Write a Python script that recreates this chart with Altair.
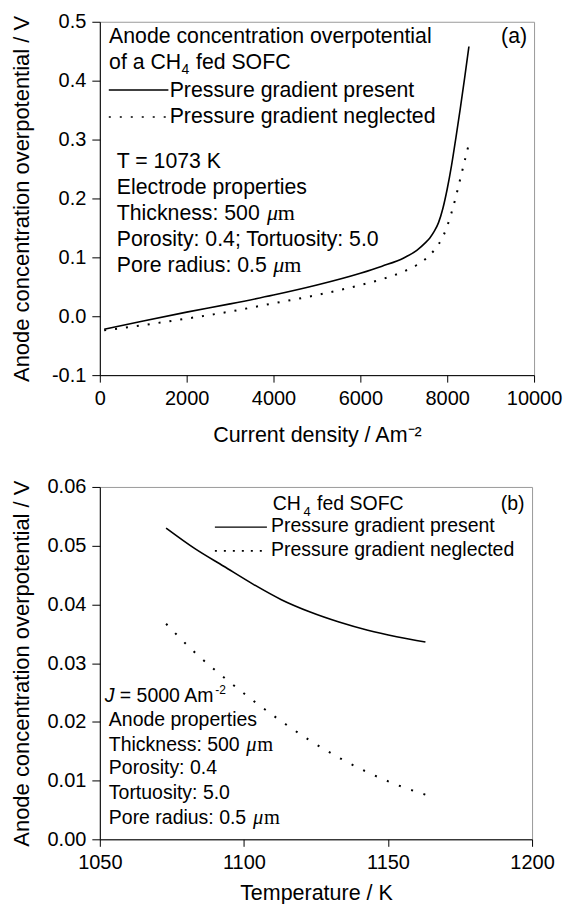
import altair as alt
import pandas as pd

FONT = "Liberation Sans"
SERIF = "Liberation Serif"

# ---------------- Panel (a) data ----------------
a_j = [100, 1000, 2000, 3000, 4000, 5000, 6000, 6500, 7000, 7300, 7500, 7600, 7700,
       7800, 7900, 8000, 8100, 8200, 8300, 8400, 8500]
a_present = [-0.022, -0.008, 0.007, 0.021, 0.036, 0.053, 0.073, 0.085, 0.099, 0.112,
             0.125, 0.133, 0.144, 0.159, 0.183, 0.216, 0.256, 0.303, 0.352, 0.404, 0.458]
a_neglected = [-0.024, -0.015, -0.004, 0.008, 0.022, 0.036, 0.053, 0.063, 0.076, 0.087,
               0.097, 0.104, 0.112, 0.122, 0.135, 0.153, 0.176, 0.203, 0.233, 0.263, 0.293]
a_xticks = [0, 2000, 4000, 6000, 8000, 10000]
a_yticks = [-0.1, 0.0, 0.1, 0.2, 0.3, 0.4, 0.5]

# annotation texts of panel (a)
a_txt = ["Anode concentration overpotential", "of a CH", "fed SOFC",
         "Pressure gradient present", "Pressure gradient neglected",
         "T = 1073 K", "Electrode properties", "Thickness: 500",
         "Porosity: 0.4; Tortuosity: 5.0", "Pore radius: 0.5"]
a_txt_x = [214, 214, 2215, 1609, 1609, 391, 391, 391, 391, 391]
a_txt_y = [0.4644, 0.4197, 0.4197, 0.3722, 0.3286, 0.2522, 0.2081, 0.1635, 0.1194, 0.0744]
a_sub = ["4"]; a_sub_x = [1880]; a_sub_y = [0.4112]
a_tag = ["(a)"]; a_tag_x = [9839]; a_tag_y = [0.4644]
a_mu_x = [3850, 3995]; a_m_x = [4100, 4245]; a_mu_y = [0.1635, 0.0744]
a_leg_x = [207, 207]; a_leg_x2 = [1579, 1579]; a_leg_y = [0.3841, 0.3383]

# ---------------- Panel (b) data ----------------
b_t = [1073, 1083, 1093, 1103, 1113, 1123, 1133, 1143, 1153, 1163]
b_present = [0.0530, 0.0495, 0.0465, 0.0435, 0.0408, 0.0387, 0.0370, 0.0356, 0.0345, 0.0336]
b_neglected = [0.0367, 0.0318, 0.0276, 0.0237, 0.0201, 0.0168, 0.0139, 0.0114, 0.0093, 0.0076]
b_xticks = [1050, 1100, 1150, 1200]
b_yticks = [0.0, 0.01, 0.02, 0.03, 0.04, 0.05, 0.06]

b_txt = ["CH", "fed SOFC", "Pressure gradient present", "Pressure gradient neglected",
         "= 5000 Am", "Anode properties", "Thickness: 500", "Porosity: 0.4",
         "Tortuosity: 5.0", "Pore radius: 0.5"]
b_txt_x = [1109.97, 1125.4, 1109.38, 1109.38, 1056.94, 1053.13, 1053.13, 1053.13, 1053.13, 1053.13]
b_txt_y = [0.05602, 0.05602, 0.05227, 0.04817, 0.02331, 0.01933, 0.01507, 0.01114, 0.00684, 0.00266]
b_sub = ["4"]; b_sub_x = [1120.7]; b_sub_y = [0.05500]
b_sup = ["-2"]; b_sup_x = [1090.1]; b_sup_y = [0.02479]
b_j = ["J"]; b_j_x = [1051.74]; b_j_y = [0.02331]
b_tag = ["(b)"]; b_tag_x = [1197.4]; b_tag_y = [0.05602]
b_mu_x = [1100.8, 1103.2]; b_m_x = [1104.6, 1107.0]; b_mu_y = [0.01507, 0.00266]
b_leg_x = [1089.93, 1089.93]; b_leg_x2 = [1107.99, 1107.99]; b_leg_y = [0.05316, 0.04911]


def axis_common(**kw):
    base = dict(labelFont=FONT, labelFontSize=20, labelColor="black", labelPadding=6,
                labelFlush=False, labelOverlap=False, tickColor="black", domainColor="black",
                tickWidth=1, domainWidth=1, grid=False, titleFont=FONT, titleFontWeight="normal",
                titleColor="black", titleBaseline="alphabetic")
    base.update(kw)
    return alt.Axis(**base)


def build_panel(w, h, xdom, ydom, xaxis, yaxis, lines, texts, rules):
    xs = alt.Scale(domain=xdom, nice=False, zero=False)
    ys = alt.Scale(domain=ydom, nice=False, zero=False)

    def X(f="x"):
        return alt.X(f"{f}:Q", scale=xs, axis=xaxis)

    def Y(f="y"):
        return alt.Y(f"{f}:Q", scale=ys, axis=yaxis)

    layers = []
    for df, dash, sw in lines:
        m = dict(color="black", strokeWidth=sw, interpolate="monotone", strokeCap="butt")
        if dash:
            m["strokeDash"] = dash
        layers.append(alt.Chart(df).mark_line(**m).encode(x=X(), y=Y()))
    for df, dash in rules:
        m = dict(color="black", strokeWidth=1.6 if dash else 1.4, strokeCap="butt")
        if dash:
            m["strokeDash"] = dash
        layers.append(alt.Chart(df).mark_rule(**m).encode(x=X(), x2="x2:Q", y=Y()))
    for df, font, size, style, align in texts:
        layers.append(alt.Chart(df).mark_text(font=font, fontSize=size, fontStyle=style,
                                              align=align, baseline="alphabetic",
                                              color="black").encode(x=X(), y=Y(), text="t:N"))
    return alt.layer(*layers).properties(width=w, height=h)


def tdf(t, x, y):
    return pd.DataFrame({"t": t, "x": x, "y": y})


# ---------------- Panel (a) ----------------
WA, HA = 435, 354
xa = axis_common(values=a_xticks, format="d", title="Current density / Am⁻²",
                 titleFontSize=21.5, titleX=WA / 2, titleY=66, tickSize=7)
ya = axis_common(values=a_yticks, title="Anode concentration overpotential / V",
                 labelExpr="datum.value < 0 ? '-' + format(-datum.value, '.1f') : format(datum.value, '.1f')",
                 titleFontSize=22, titleX=-71, titleY=HA / 2, tickSize=8)

panel_a = build_panel(
    WA, HA, [0, 10000], [-0.1, 0.5], xa, ya,
    lines=[(pd.DataFrame({"x": a_j, "y": a_present}), None, 1.6),
           (pd.DataFrame({"x": a_j, "y": a_neglected}), [2, 9], 2)],
    texts=[(tdf(a_txt, a_txt_x, a_txt_y), FONT, 21.3, "normal", "left"),
           (tdf(a_sub, a_sub_x, a_sub_y), FONT, 14, "normal", "left"),
           (tdf(a_tag, a_tag_x, a_tag_y), FONT, 21.3, "normal", "right"),
           (tdf(["μ", "μ"], a_mu_x, a_mu_y), SERIF, 22, "italic", "left"),
           (tdf(["m", "m"], a_m_x, a_mu_y), SERIF, 22, "normal", "left")],
    rules=[(pd.DataFrame({"x": a_leg_x[:1], "x2": a_leg_x2[:1], "y": a_leg_y[:1]}), None),
           (pd.DataFrame({"x": a_leg_x[1:], "x2": a_leg_x2[1:], "y": a_leg_y[1:]}), [2, 9])],
)

# ---------------- Panel (b) ----------------
WB, HB = 433, 353
xb = axis_common(values=b_xticks, format="d", title="Temperature / K",
                 titleFontSize=21.5, titleX=WB / 2, titleY=60, tickSize=7)
yb = axis_common(values=b_yticks, format=".2f", title="Anode concentration overpotential / V",
                 titleFontSize=22, titleX=-71, titleY=HB / 2, tickSize=8)

panel_b = build_panel(
    WB, HB, [1050, 1200], [0, 0.06], xb, yb,
    lines=[(pd.DataFrame({"x": b_t, "y": b_present}), None, 1.6),
           (pd.DataFrame({"x": b_t, "y": b_neglected}), [2, 11], 2)],
    texts=[(tdf(b_txt, b_txt_x, b_txt_y), FONT, 19.5, "normal", "left"),
           (tdf(b_sub, b_sub_x, b_sub_y), FONT, 13, "normal", "left"),
           (tdf(b_sup, b_sup_x, b_sup_y), FONT, 12, "normal", "left"),
           (tdf(b_j, b_j_x, b_j_y), FONT, 19.5, "italic", "left"),
           (tdf(b_tag, b_tag_x, b_tag_y), FONT, 19.5, "normal", "right"),
           (tdf(["μ", "μ"], b_mu_x, b_mu_y), SERIF, 20.5, "italic", "left"),
           (tdf(["m", "m"], b_m_x, b_mu_y), SERIF, 20.5, "normal", "left")],
    rules=[(pd.DataFrame({"x": b_leg_x[:1], "x2": b_leg_x2[:1], "y": b_leg_y[:1]}), None),
           (pd.DataFrame({"x": b_leg_x[1:], "x2": b_leg_x2[1:], "y": b_leg_y[1:]}), [2, 7])],
)

chart = alt.vconcat(panel_a, panel_b, spacing=30).properties(
    padding={"left": 10, "top": 10, "right": 0, "bottom": 0},
    background="white",
).configure_view(stroke="#9a9a9a", strokeWidth=1)

chart.save("out.html", embed_options={"renderer": "svg", "actions": False})
